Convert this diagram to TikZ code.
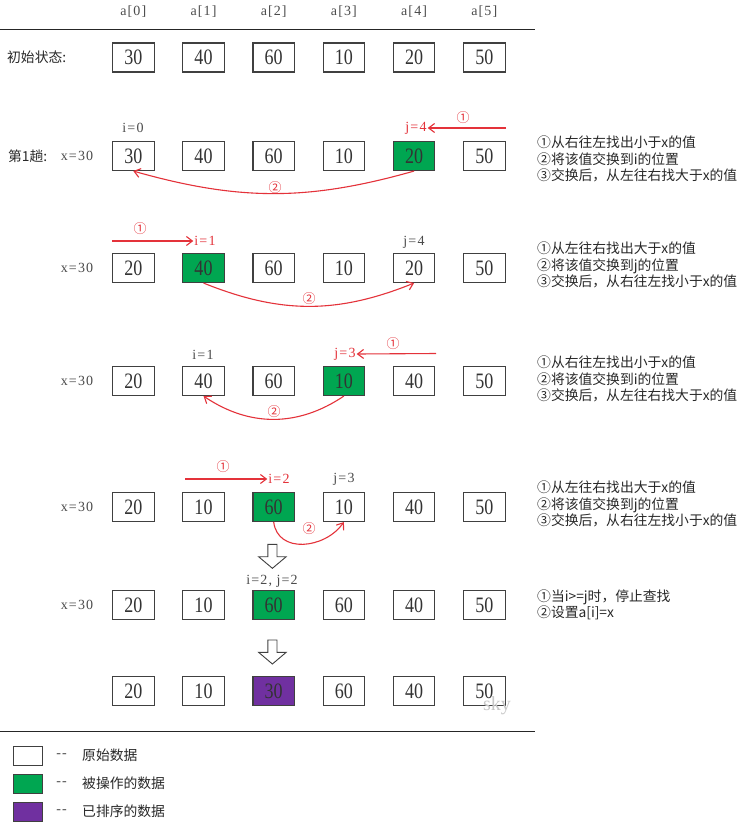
\documentclass[tikz,border=0pt]{standalone}
\usepackage{fontspec}
\setmainfont{Liberation Serif}
\newfontfamily\cjk{Noto Sans CJK SC}
\newfontfamily\numfont{Liberation Serif}[FakeStretch=0.82]
\newfontfamily\lblfont{Liberation Serif}[LetterSpace=8]
\usetikzlibrary{arrows.meta}
\definecolor{opgreen}{RGB}{0,166,81}
\definecolor{sortpurple}{RGB}{112,48,160}
\definecolor{arrred}{RGB}{228,50,58}
\definecolor{boxline}{RGB}{64,64,64}
\definecolor{lblgray}{RGB}{75,75,75}
\definecolor{notegray}{RGB}{40,40,40}
\begin{document}
\begin{tikzpicture}[x=1pt,y=-1pt,
  cell/.style={draw=boxline,line width=1.1pt,minimum width=41.5pt,minimum height=29pt,inner sep=0pt,font=\numfont\fontsize{22}{22}\selectfont,text=black!80},
  opcell/.style={cell,fill=opgreen},
  sortcell/.style={cell,fill=sortpurple},
  lbl/.style={inner sep=1pt,font=\lblfont\fontsize{14}{14}\selectfont,text=lblgray},
  redlbl/.style={lbl,text=arrred},
  circ/.style={inner sep=0pt,font=\cjk\fontsize{13}{13}\selectfont,text=arrred},
  redarrow/.style={draw=arrred,line width=1.1pt,-{Straight Barb[length=6pt,width=9pt]}},
  cjklbl/.style={inner sep=0pt,anchor=west,font=\cjk\fontsize{13.8}{16}\selectfont,text=notegray},
  note/.style={align=left,anchor=west,inner sep=0pt,font=\cjk\fontsize{13.8}{16.2}\selectfont,text=notegray},
  blockarrow/.style={draw=boxline,line width=0.9pt,fill=white,line join=miter},
  rule/.style={draw=black!85,line width=1.5pt},
  legbox/.style={draw=boxline,line width=1pt,minimum width=29pt,minimum height=19pt,inner sep=0pt},
]
\useasboundingbox (0,0) rectangle (740,823);
\fill[white] (0,0) rectangle (740,823);

% header
\foreach \k in {0,...,5}
  \node[lbl] (h\k) at ({133.3+70.2*\k},12) {a[\k]};
\coordinate (rl) at (0,29.3);
\coordinate (rr) at (535,29.3);
\draw[rule] (rl) -- (rr);

% row 0
\node[cjklbl] (init) at (7,57.5) {初始状态:};
\foreach \v/\s [count=\k from 0] in {30/cell,40/cell,60/cell,10/cell,20/cell,50/cell}
  \node[\s] (r0c\k) at ({133.3+70.2*\k},57.5) {\v};

% row 1
\node[cjklbl] (pass1) at (8,156) {第1趟:};
\node[lbl] (x1) at (77,156) {x=30};
\foreach \v/\s [count=\k from 0] in {30/cell,40/cell,60/cell,10/cell,20/opcell,50/cell}
  \node[\s] (r1c\k) at ({133.3+70.2*\k},156) {\v};
\node[lbl] (i1) at (133,128) {i=0};
\node[redlbl] (j1) at (416,128) {j=4};
\coordinate (s1) at (506,128);
\draw[redarrow] (s1) -- (j1.east);
\node[circ] (c1) at (463,118) {①};
\draw[redarrow] (r1c4.south) .. controls +(-106,30) and +(106,30) .. (r1c0.south);
\node[circ] (q1) at (275,188) {②};
\node[note] (n1) at (537,159) {①从右往左找出小于x的值\\②将该值交换到i的位置\\③交换后，从左往右找大于x的值};

% row 2
\node[lbl] (x2) at (77,268) {x=30};
\foreach \v/\s [count=\k from 0] in {20/cell,40/opcell,60/cell,10/cell,20/cell,50/cell}
  \node[\s] (r2c\k) at ({133.3+70.2*\k},268) {\v};
\node[redlbl] (i2) at (205,241) {i=1};
\node[lbl] (j2) at (414,242) {j=4};
\coordinate (s2) at (112,241);
\draw[redarrow] (s2) -- (i2.west);
\node[circ] (c2) at (140,229) {①};
\draw[redarrow] (r2c1.south) .. controls +(77,31) and +(-77,31) .. (r2c4.south);
\node[circ] (q2) at (309,299) {②};
\node[note] (n2) at (537,265) {①从左往右找出大于x的值\\②将该值交换到j的位置\\③交换后，从右往左找小于x的值};

% row 3
\node[lbl] (x3) at (77,381) {x=30};
\foreach \v/\s [count=\k from 0] in {20/cell,40/cell,60/cell,10/opcell,40/cell,50/cell}
  \node[\s] (r3c\k) at ({133.3+70.2*\k},381) {\v};
\node[lbl] (i3) at (203,355) {i=1};
\node[redlbl] (j3) at (345,354) {j=3};
\coordinate (s3) at (436,353.5);
\draw[redarrow] (s3) -- (j3.east);
\node[circ] (c3) at (393,344) {①};
\draw[redarrow] (r3c3.south) .. controls +(-46,31) and +(46,31) .. (r3c1.south);
\node[circ] (q3) at (274,412) {②};
\node[note] (n3) at (537,379) {①从右往左找出小于x的值\\②将该值交换到i的位置\\③交换后，从左往右找大于x的值};

% row 4
\node[lbl] (x4) at (77,507) {x=30};
\foreach \v/\s [count=\k from 0] in {20/cell,10/cell,60/opcell,10/cell,40/cell,50/cell}
  \node[\s] (r4c\k) at ({133.3+70.2*\k},507) {\v};
\node[redlbl] (i4) at (279,479) {i=2};
\node[lbl] (j4) at (344,479) {j=3};
\coordinate (s4) at (185,479);
\draw[redarrow] (s4) -- (i4.west);
\node[circ] (c4) at (223,467) {①};
\draw[redarrow] (r4c2.south) .. controls +(4,32) and +(-19,27) .. (r4c3.south);
\node[circ] (q4) at (309,529) {②};
\node[note] (n4) at (537,504) {①从左往右找出大于x的值\\②将该值交换到j的位置\\③交换后，从右往左找小于x的值};

% block arrow 1
\draw[blockarrow] (267.8,544.3) -- (277,544.3) -- (277,556.7) -- (286.2,556.7) -- (272.4,568.3) -- (258.6,556.7) -- (267.8,556.7) -- cycle;

% row 5
\node[lbl] (x5) at (77,605) {x=30};
\foreach \v/\s [count=\k from 0] in {20/cell,10/cell,60/opcell,60/cell,40/cell,50/cell}
  \node[\s] (r5c\k) at ({133.3+70.2*\k},605) {\v};
\node[lbl] (ij5) at (272,581) {i=2, j=2};
\node[note] (n5) at (537,605) {①当i>=j时，停止查找\\②设置a[i]=x};

% block arrow 2
\draw[blockarrow] (267.8,640) -- (277,640) -- (277,652.3) -- (286.2,652.3) -- (272.4,664) -- (258.6,652.3) -- (267.8,652.3) -- cycle;

% row 6
\foreach \v/\s [count=\k from 0] in {20/cell,10/cell,30/sortcell,60/cell,40/cell,50/cell}
  \node[\s] (r6c\k) at ({133.3+70.2*\k},691) {\v};
\node[font=\fontsize{20}{20}\selectfont,text=black!22,inner sep=0pt] (sky) at (497,706) {sky};

% bottom rule
\coordinate (bl) at (0,731.5);
\coordinate (br) at (535,731.5);
\draw[rule] (bl) -- (br);

% legend
\node[legbox,fill=white] (leg1) at (27.5,755.5) {};
\node[legbox,fill=opgreen] (leg2) at (27.5,783.5) {};
\node[legbox,fill=sortpurple] (leg3) at (27.5,811.5) {};
\node[lbl] (d1) at (61.5,755.5) {-{}-};
\node[lbl] (d2) at (61.5,783.5) {-{}-};
\node[lbl] (d3) at (61.5,811.5) {-{}-};
\node[cjklbl] (t1) at (82,755.5) {原始数据};
\node[cjklbl] (t2) at (82,783.5) {被操作的数据};
\node[cjklbl] (t3) at (82,811.5) {已排序的数据};
\end{tikzpicture}
\end{document}
